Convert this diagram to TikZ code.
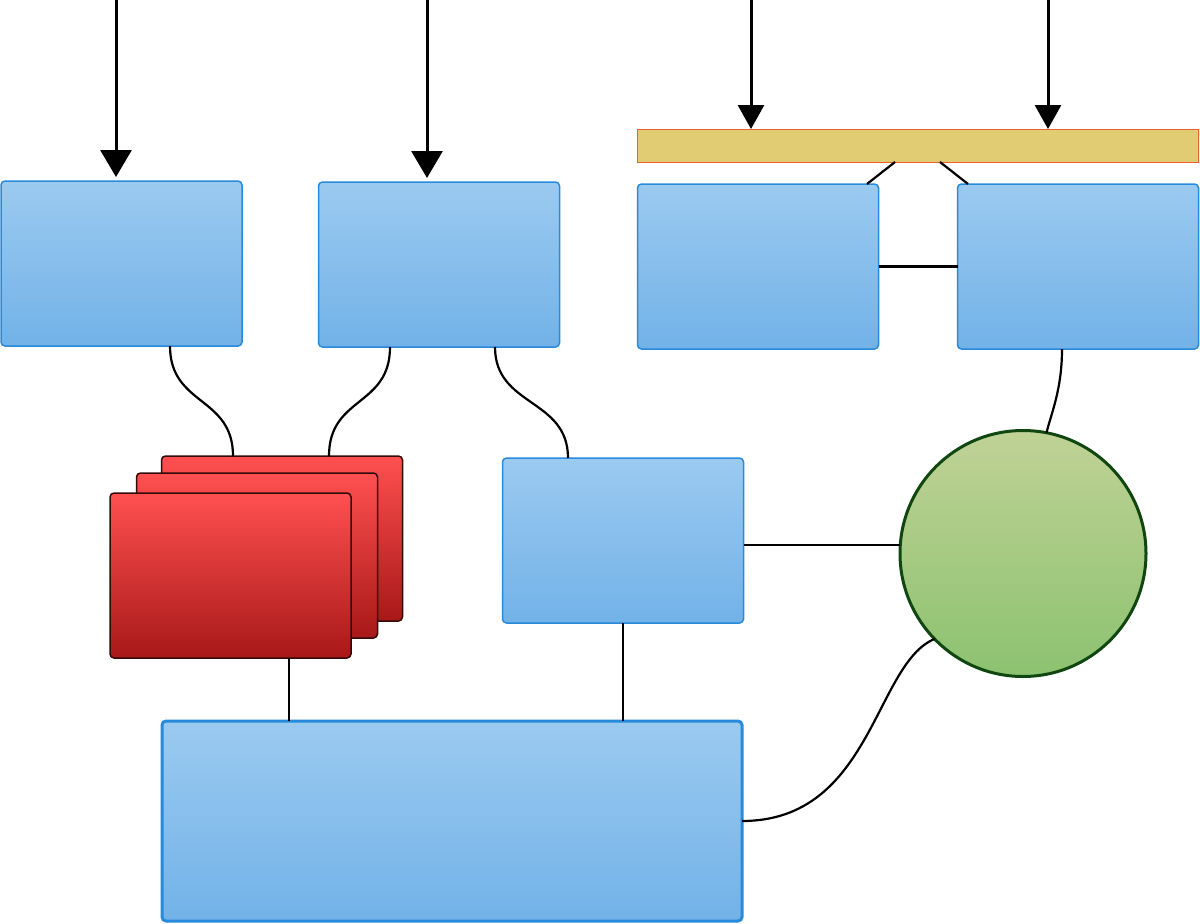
\documentclass[tikz,border=0pt]{standalone}
\usetikzlibrary{arrows.meta}
\definecolor{bluetop}{RGB}{155,202,240}
\definecolor{bluebot}{RGB}{114,178,232}
\definecolor{blueline}{RGB}{40,138,218}
\definecolor{redtop}{RGB}{255,80,80}
\definecolor{redbot}{RGB}{168,24,24}
\definecolor{redline}{RGB}{50,10,10}
\definecolor{greentop}{RGB}{192,210,150}
\definecolor{greenbot}{RGB}{140,194,112}
\definecolor{greenline}{RGB}{16,70,16}
\definecolor{barfill}{RGB}{225,204,116}
\definecolor{barline}{RGB}{236,98,40}
\tikzset{
  bluebox/.style={draw=blueline, line width=1.5pt, rounded corners=4pt,
    top color=bluetop, bottom color=bluebot, shading angle=0,
    minimum width=241pt, minimum height=165pt, inner sep=0pt, outer sep=0pt},
  redbox/.style={draw=redline, line width=1.5pt, rounded corners=4pt,
    top color=redtop, bottom color=redbot,
    minimum width=241pt, minimum height=165pt, inner sep=0pt, outer sep=0pt},
  ballnode/.style={circle, draw=greenline, line width=3pt,
    top color=greentop, bottom color=greenbot,
    minimum size=246pt, inner sep=0pt, outer sep=0pt},
  barnode/.style={draw=barline, line width=1pt, fill=barfill,
    minimum width=561pt, minimum height=33pt, inner sep=0pt, outer sep=0pt},
  wire/.style={draw=black, line width=2.2pt},
  bigarrow/.style={draw=black, line width=3pt, -{Triangle[width=31pt,length=27pt]}},
  bararrow/.style={draw=black, line width=3pt, -{Triangle[width=26pt,length=24pt]}}
}
\begin{document}
\begin{tikzpicture}[x=1pt, y=-1pt]
\useasboundingbox (0,0) rectangle (1200,924);

% top row of boxes and the bar
\node[bluebox] (A) at (121.5,263.5) {};
\node[bluebox] (B) at (439,264.5) {};
\node[barnode] (bar) at (917.5,145.5) {};
\node[bluebox] (C) at (758,266.5) {};
\node[bluebox] (D) at (1078,266.5) {};

% stacked red cards
\node[redbox] (R3) at (282,538.5) {};
\node[redbox] (R2) at (257,555.5) {};
\node[redbox] (R1) at (230.5,575.5) {};

% middle box, circle, bottom box
\node[bluebox] (E) at (623,540.5) {};
\node[ballnode] (G) at (1023,553.5) {};
\node[bluebox, line width=3pt, minimum width=580pt, minimum height=200pt] (F) at (452,821) {};

% incoming arrows
\coordinate (inA) at (116,0);
\coordinate (inB) at (427,0);
\coordinate (inC) at (751,0);
\coordinate (inD) at (1048,0);
\draw[bigarrow, shorten >=4pt] (inA) -- (inA |- A.north);
\draw[bigarrow, shorten >=4pt] (inB) -- (inB |- B.north);
\draw[bararrow] (inC) -- (inC |- bar.north);
\draw[bararrow] (inD) -- (inD |- bar.north);

% curved links into the red stack and the middle box
\draw[wire] ([xshift=48.5pt]A.south) .. controls +(0,60) and +(0,-60) .. ([xshift=-49pt]R3.north);
\draw[wire] ([xshift=-49pt]B.south) .. controls +(0,60) and +(0,-60) .. ([xshift=47pt]R3.north);
\draw[wire] ([xshift=56pt]B.south) .. controls +(0,60) and +(0,-60) .. ([xshift=-55pt]E.north);

% bar to the two boxes below it
\draw[wire] ([xshift=-22.5pt]bar.south) -- ([xshift=109pt]C.north);
\draw[wire] ([xshift=22.5pt]bar.south) -- ([xshift=-110pt]D.north);
\draw[wire] (C.east) -- (D.west);

% links to the circle
\draw[wire] ([xshift=-16pt]D.south) .. controls +(0,40) and +(5,-20) .. (G.79);
\draw[wire] (G.176.3 -| E.east) -- (G.176.3);
\draw[wire] (F.east) .. controls +(130,0) and +(-60,25) .. (G.224);

% links into the bottom box
\draw[wire] ([xshift=58.5pt]R1.south) -- ([xshift=58.5pt]R1.south |- F.north);
\draw[wire] (E.south) -- (E.south |- F.north);
\end{tikzpicture}
\end{document}
